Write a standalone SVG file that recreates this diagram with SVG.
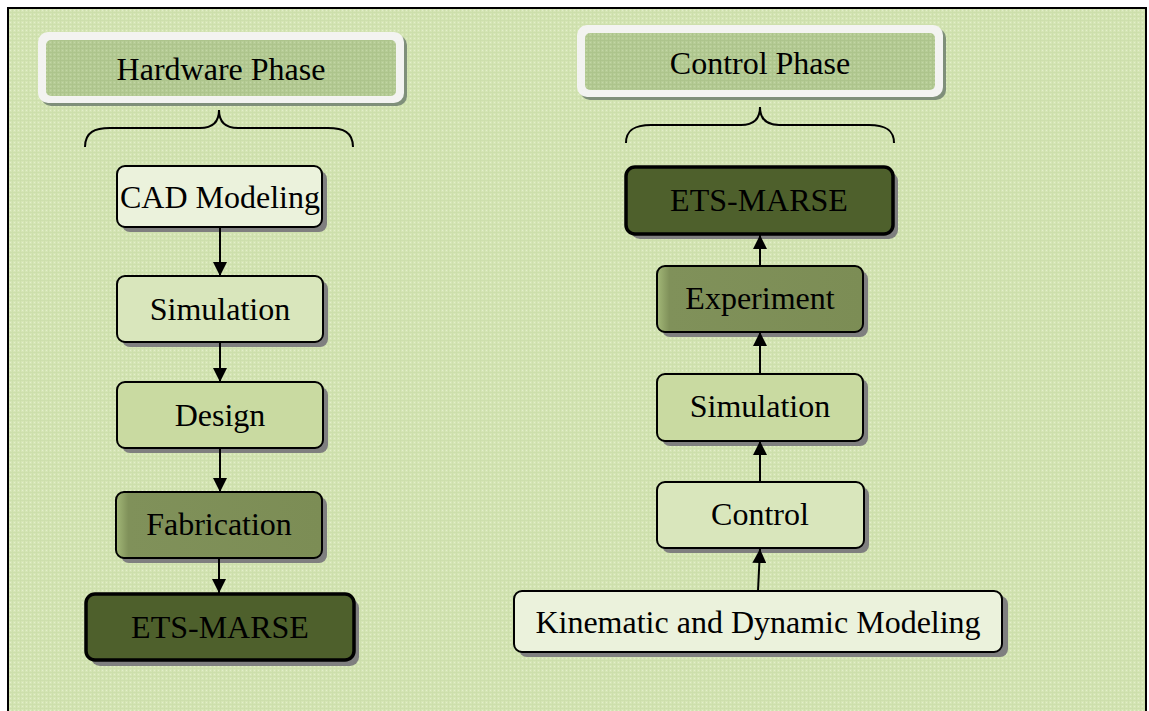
<svg xmlns="http://www.w3.org/2000/svg" width="1149" height="711" viewBox="0 0 1149 711">
<defs>
<pattern id="bg" width="4" height="4" patternUnits="userSpaceOnUse">
<rect width="4" height="4" fill="#d5e5b5"/>
<rect x="0" y="0" width="4" height="1" fill="#cddfac"/>
<rect x="0" y="0" width="1" height="4" fill="#cddfac"/>
<rect x="2" y="2" width="1" height="1" fill="#e3efcb"/>
</pattern>
<pattern id="hd" width="4" height="4" patternUnits="userSpaceOnUse">
<rect width="4" height="4" fill="#b6cc96"/>
<rect x="0" y="0" width="4" height="1" fill="#adc48c"/>
<rect x="0" y="0" width="1" height="4" fill="#adc48c"/>
<rect x="2" y="2" width="1" height="1" fill="#c3d6a6"/>
</pattern>
<linearGradient id="olive" x1="0" y1="0" x2="1" y2="0">
<stop offset="0" stop-color="#a3b878"/>
<stop offset="0.06" stop-color="#80915a"/>
<stop offset="1" stop-color="#7c8d55"/>
</linearGradient>
<marker id="ah" viewBox="0 0 14 14" refX="14" refY="7" markerWidth="14" markerHeight="14" markerUnits="userSpaceOnUse" orient="auto">
<path d="M0,0 L14,7 L0,14 Z" fill="#000"/>
</marker>
</defs>
<style>
.t{font-family:"Liberation Serif","Times New Roman",serif;font-size:32px;fill:#000;text-anchor:middle}
.sh{fill:#7f7f7f}
.n{stroke:#000;stroke-width:2}
.big{stroke:#000;stroke-width:3.5}
.c{stroke:#000;stroke-width:2;fill:none}
.br{stroke:#000;stroke-width:2;fill:none}
</style>
<rect x="0" y="0" width="1149" height="711" fill="#fff"/>
<rect x="8" y="8" width="1138" height="720" fill="url(#bg)" stroke="#000" stroke-width="2"/>

<g id="hardware-phase">
<rect x="41" y="35" width="366" height="71" rx="10" fill="#7f8f7a"/>
<rect x="38" y="32" width="366" height="71" rx="10" fill="#f3f3f1"/>
<rect x="46" y="40" width="350" height="56" rx="5" fill="url(#hd)"/>
<text class="t" x="221" y="80">Hardware Phase</text>
<path class="br" d="M85,147 C85,132 95,128 110,128 L200,128 C212,128 219,122 219,110 C219,122 226,128 238,128 L328,128 C343,128 353,132 353,147"/>
</g>

<g id="control-phase">
<rect x="580" y="28" width="366" height="72" rx="10" fill="#7f8f7a"/>
<rect x="577" y="25" width="366" height="72" rx="10" fill="#f3f3f1"/>
<rect x="585" y="33" width="350" height="57" rx="5" fill="url(#hd)"/>
<text class="t" x="760" y="74">Control Phase</text>
<path class="br" d="M626,143 C626,129 636,125 651,125 L741,125 C753,125 760,119 760,107 C760,119 767,125 779,125 L869,125 C884,125 894,129 894,143"/>
</g>

<g id="cad-modeling">
<rect class="sh" x="122" y="171" width="205" height="61" rx="8"/>
<rect class="n" x="117" y="166" width="205" height="61" rx="8" fill="#ebf2dc"/>
<text class="t" x="220" y="208">CAD Modeling</text>
</g>
<g id="simulation-hw">
<rect class="sh" x="122" y="281" width="206" height="66" rx="8"/>
<rect class="n" x="117" y="276" width="206" height="66" rx="8" fill="#d9e6bc"/>
<text class="t" x="220" y="320">Simulation</text>
</g>
<g id="design">
<rect class="sh" x="122" y="387" width="206" height="66" rx="8"/>
<rect class="n" x="117" y="382" width="206" height="66" rx="8" fill="#c9daa1"/>
<text class="t" x="220" y="426">Design</text>
</g>
<g id="fabrication">
<rect class="sh" x="121" y="497" width="206" height="66" rx="8"/>
<rect class="n" x="116" y="492" width="206" height="66" rx="8" fill="url(#olive)"/>
<text class="t" x="219" y="535">Fabrication</text>
</g>
<g id="ets-marse-hw">
<rect class="sh" x="91" y="599" width="268" height="67" rx="9"/>
<rect class="big" x="86" y="594" width="268" height="66" rx="9" fill="#4e602c"/>
<text class="t" x="220" y="638">ETS-MARSE</text>
</g>

<g id="ets-marse-ctrl">
<rect class="sh" x="631" y="172" width="267" height="67" rx="9"/>
<rect class="big" x="626" y="167" width="267" height="67" rx="9" fill="#4e602c"/>
<text class="t" x="759" y="211">ETS-MARSE</text>
</g>
<g id="experiment">
<rect class="sh" x="662" y="271" width="206" height="66" rx="8"/>
<rect class="n" x="657" y="266" width="206" height="66" rx="8" fill="url(#olive)"/>
<text class="t" x="760" y="309">Experiment</text>
</g>
<g id="simulation-ctrl">
<rect class="sh" x="662" y="379" width="206" height="67" rx="8"/>
<rect class="n" x="657" y="374" width="206" height="67" rx="8" fill="#c9daa1"/>
<text class="t" x="760" y="417">Simulation</text>
</g>
<g id="control">
<rect class="sh" x="662" y="487" width="207" height="66" rx="8"/>
<rect class="n" x="657" y="482" width="207" height="66" rx="8" fill="#d9e6bc"/>
<text class="t" x="760" y="525">Control</text>
</g>
<g id="kinematic-dynamic">
<rect class="sh" x="519" y="596" width="489" height="61" rx="8"/>
<rect class="n" x="514" y="591" width="488" height="61" rx="8" fill="#ebf2dc"/>
<text class="t" x="758" y="633">Kinematic and Dynamic Modeling</text>
</g>

<g id="connectors">
<line class="c" x1="220" y1="227" x2="220" y2="276" marker-end="url(#ah)"/>
<line class="c" x1="220" y1="342" x2="220" y2="382" marker-end="url(#ah)"/>
<line class="c" x1="220" y1="448" x2="220" y2="492" marker-end="url(#ah)"/>
<line class="c" x1="219" y1="558" x2="219" y2="593" marker-end="url(#ah)"/>
<line class="c" x1="758" y1="591" x2="760" y2="549" marker-end="url(#ah)"/>
<line class="c" x1="760" y1="482" x2="760" y2="441" marker-end="url(#ah)"/>
<line class="c" x1="760" y1="374" x2="760" y2="332" marker-end="url(#ah)"/>
<line class="c" x1="760" y1="266" x2="760" y2="235" marker-end="url(#ah)"/>
</g>
</svg>
